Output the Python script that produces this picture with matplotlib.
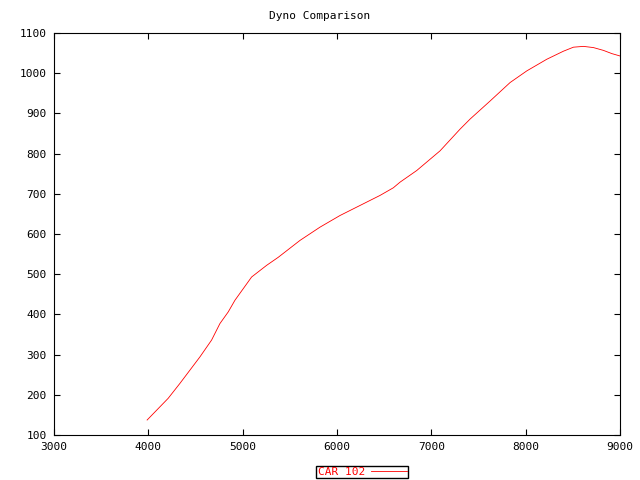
import matplotlib
matplotlib.use('Agg')
import matplotlib.pyplot as plt

rpm = [3989, 4212, 4336, 4442, 4548, 4672, 4760, 4848, 4919, 5096, 5255, 5378,
       5608, 5820, 6032, 6244, 6456, 6597, 6668, 6845, 7092, 7304, 7410, 7622,
       7834, 8011, 8223, 8399, 8505, 8611, 8717, 8823, 8912, 9000]
power = [137, 191, 228, 261, 294, 336, 377, 406, 435, 493, 522, 542,
         584, 617, 646, 671, 696, 715, 729, 758, 807, 861, 886, 931,
         977, 1006, 1035, 1055, 1065, 1067, 1064, 1057, 1049, 1043]
series_name = 'CAR 102'
chart_title = 'Dyno Comparison'

plt.rcParams['font.family'] = 'DejaVu Sans Mono'
plt.rcParams['font.size'] = 8

fig = plt.figure(figsize=(6.4, 4.8), dpi=100)
ax = fig.add_axes([0.084, 0.094, 0.885, 0.837])

line, = ax.plot(rpm, power, color='red', linewidth=0.6, label=series_name)

ax.set_xlim(3000, 9000)
ax.set_ylim(100, 1100)
ax.set_xticks(range(3000, 9001, 1000))
ax.set_yticks(range(100, 1101, 100))
ax.tick_params(direction='in', length=4, width=0.8, top=True, right=True, pad=5)
for s in ax.spines.values():
    s.set_linewidth(0.8)

fig.text(0.5, 0.966, chart_title, ha='center', va='center')

fig.legend(handles=[line], loc='center', bbox_to_anchor=(0.566, 0.016),
           markerfirst=False, labelcolor='red', fancybox=False,
           edgecolor='black', framealpha=1, borderpad=0.1, handlelength=3.2,
           handletextpad=0.6, borderaxespad=0, fontsize=8)

fig.savefig('out.png', dpi=100)
